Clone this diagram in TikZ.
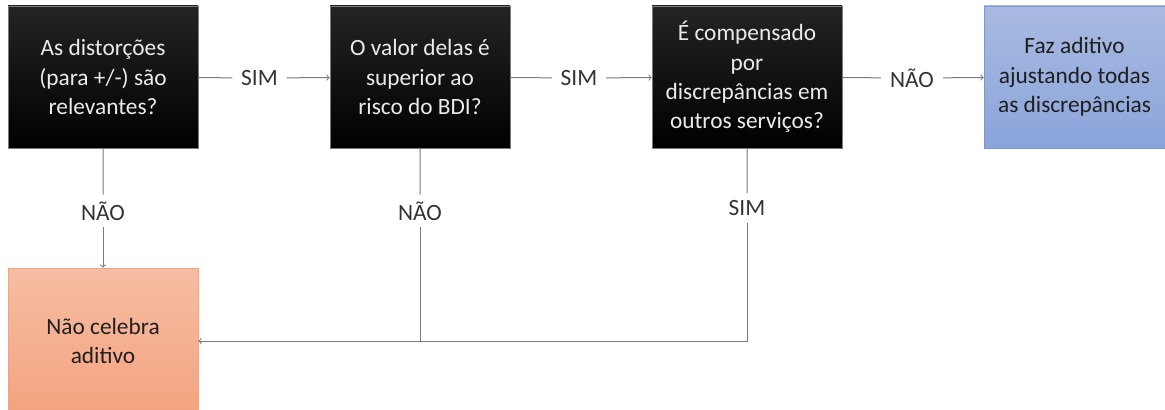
\documentclass[tikz,border=0pt]{standalone}
\usepackage{fontspec}
\setmainfont{Carlito}
\usetikzlibrary{positioning,shapes}
\definecolor{linegray}{HTML}{7A7A7A}
\definecolor{labelgray}{HTML}{333333}
\definecolor{blueTop}{HTML}{A9BAE1}
\definecolor{blueBot}{HTML}{8AA4DA}
\definecolor{blueLine}{HTML}{7B97D3}
\definecolor{orangeTop}{HTML}{F6BDA3}
\definecolor{orangeBot}{HTML}{F4A37F}
\tikzset{
  txt/.style={font=\fontsize{17.5}{22}\selectfont, align=center},
  question/.style={txt, draw=linegray, top color=black!86, bottom color=black, text=white!92!black, minimum width=142.5pt, minimum height=106.5pt, inner sep=0pt},
  answer/.style={txt, text=labelgray, inner xsep=6.5pt, inner ysep=5pt},
  wire/.style={draw=linegray, line width=0.75pt}
}

\begin{document}
\begin{tikzpicture}[x=0.75pt, y=-0.75pt]
      \useasboundingbox (0, 0) rectangle (1165, 410);
      % perguntas
      \node [question] (q1) at (103, 77) {As distorções\\(para +/-) são\\relevantes?};
      \node [question, minimum width=135pt] (q2) at (420, 77) {O valor delas é\\superior ao\\risco do BDI?};
      \node [question] (q3) at (747, 77) {É compensado\\por\\discrepâncias em\\outros serviços?};
      % resultados
      \node [txt, draw=blueLine, top color=blueTop, bottom color=blueBot, text=black!88, minimum width=135.75pt, minimum height=106.5pt, inner sep=0pt] (faz) at (1074.5, 77) {Faz aditivo\\ajustando todas\\as discrepâncias};
      \node [txt, draw=orangeBot, top color=orangeTop, bottom color=orangeBot, text=black!88, minimum width=142.5pt, minimum height=109.5pt, inner sep=0pt] (nao) at (103, 341) {Não celebra\\aditivo};
      % respostas
      \node [answer] (s1) at (259.5, 78) {SIM};
      \node [answer] (s2) at (579, 78) {SIM};
      \node [answer] (n3) at (912, 78) {NÃO};
      \node [answer] (n1) at (103, 211) {NÃO};
      \node [answer] (n2) at (420, 211) {NÃO};
      \node [answer] (s3) at (747, 208) {SIM};
      % ligações
      \draw [wire] (q1) -- (s1) (q2) -- (s2) (q3) -- (n3)
                   (q1) -- (n1) (q2) -- (n2) (q3) -- (s3);
      \draw [wire, ->] (s1) -- (q2);
      \draw [wire, ->] (s2) -- (q3);
      \draw [wire, ->] (n3) -- (faz);
      \draw [wire, ->] (n1) -- (nao);
      \draw [wire] (n2.south) -- (n2.south |- nao.east);
      \draw [wire, ->] (s3.south) |- (nao.east);
\end{tikzpicture}
\end{document}
